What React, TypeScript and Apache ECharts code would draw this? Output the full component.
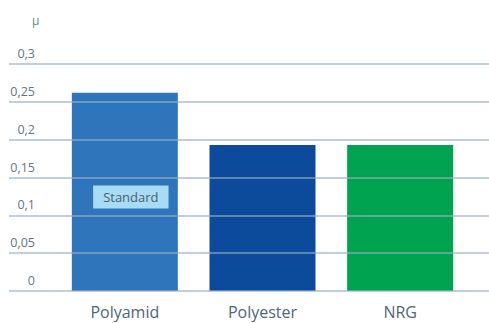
import React, { useEffect, useRef } from "react";
import * as echarts from "echarts";

const categories = ["Polyamid", "Polyester", "NRG"];
const frictionValues = [0.262, 0.193, 0.193];
const barColors = ["#2e75bb", "#0c4a9c", "#00a34f"];
const standardLabel = "Standard";
const unitLabel = "μ";
const yMin = 0;
const yMax = 0.3;
const yStep = 0.05;

const FONT = "'Open Sans', 'Noto Sans', sans-serif";

export default function App() {
  const ref = useRef<HTMLDivElement>(null);

  useEffect(() => {
    if (!ref.current) return;
    const chart = echarts.init(ref.current, undefined, { renderer: "svg" });

    const option: echarts.EChartsOption = {
      animation: false,
      backgroundColor: "#ffffff",
      title: {
        text: unitLabel,
        left: 27,
        top: 9,
        textStyle: { color: "#6a7f8e", fontSize: 12, fontWeight: "normal", fontFamily: FONT },
      },
      grid: [
        // full-width grid carrying the value ticks and horizontal rules
        { left: 9, right: 0, top: 64, bottom: 32 },
        // inner grid holding the bars
        { left: 56, right: 20, top: 64, bottom: 32 },
      ],
      xAxis: [
        { gridIndex: 0, type: "value", show: false, min: 0, max: 1 },
        {
          gridIndex: 1,
          type: "category",
          data: categories,
          axisLine: { show: false },
          axisTick: { show: false },
          axisLabel: {
            color: "#4f6676",
            fontSize: 16,
            lineHeight: 16,
            fontFamily: FONT,
            margin: 13,
          },
        },
      ],
      yAxis: [
        {
          gridIndex: 0,
          type: "value",
          min: yMin,
          max: yMax,
          interval: yStep,
          z: 5,
          axisLine: { show: false },
          axisTick: { show: false },
          splitLine: {
            show: true,
            lineStyle: { color: "rgba(150,176,196,0.8)", width: 1.5 },
          },
          axisLabel: {
            inside: true,
            margin: 26,
            align: "right",
            verticalAlign: "bottom",
            padding: [0, 0, 4, 0],
            color: "#5f7585",
            fontSize: 12.5,
            fontFamily: FONT,
            formatter: (v: number) => String(Number(v.toFixed(2))).replace(".", ","),
          },
        },
        {
          gridIndex: 1,
          type: "value",
          min: yMin,
          max: yMax,
          interval: yStep,
          show: false,
          splitLine: { show: false },
        },
      ],
      series: [
        {
          type: "bar",
          xAxisIndex: 1,
          yAxisIndex: 1,
          barWidth: 106,
          z: 2,
          data: frictionValues.map((v, i) => ({
            value: v,
            itemStyle: { color: barColors[i] },
            label:
              i === 0
                ? {
                    show: true,
                    position: "inside",
                    offset: [6, 5],
                    formatter: standardLabel,
                    color: "#4a6070",
                    fontSize: 13,
                    fontFamily: FONT,
                    backgroundColor: "#a8dcf4",
                    padding: [4, 10, 4, 10],
                    lineHeight: 15,
                  }
                : { show: false },
          })),
        },
      ],
    };

    chart.setOption(option);
    return () => chart.dispose();
  }, []);

  return (
    <div
      ref={ref}
      style={{ position: "absolute", left: 0, top: 0, width: 489, height: 323 }}
    />
  );
}
